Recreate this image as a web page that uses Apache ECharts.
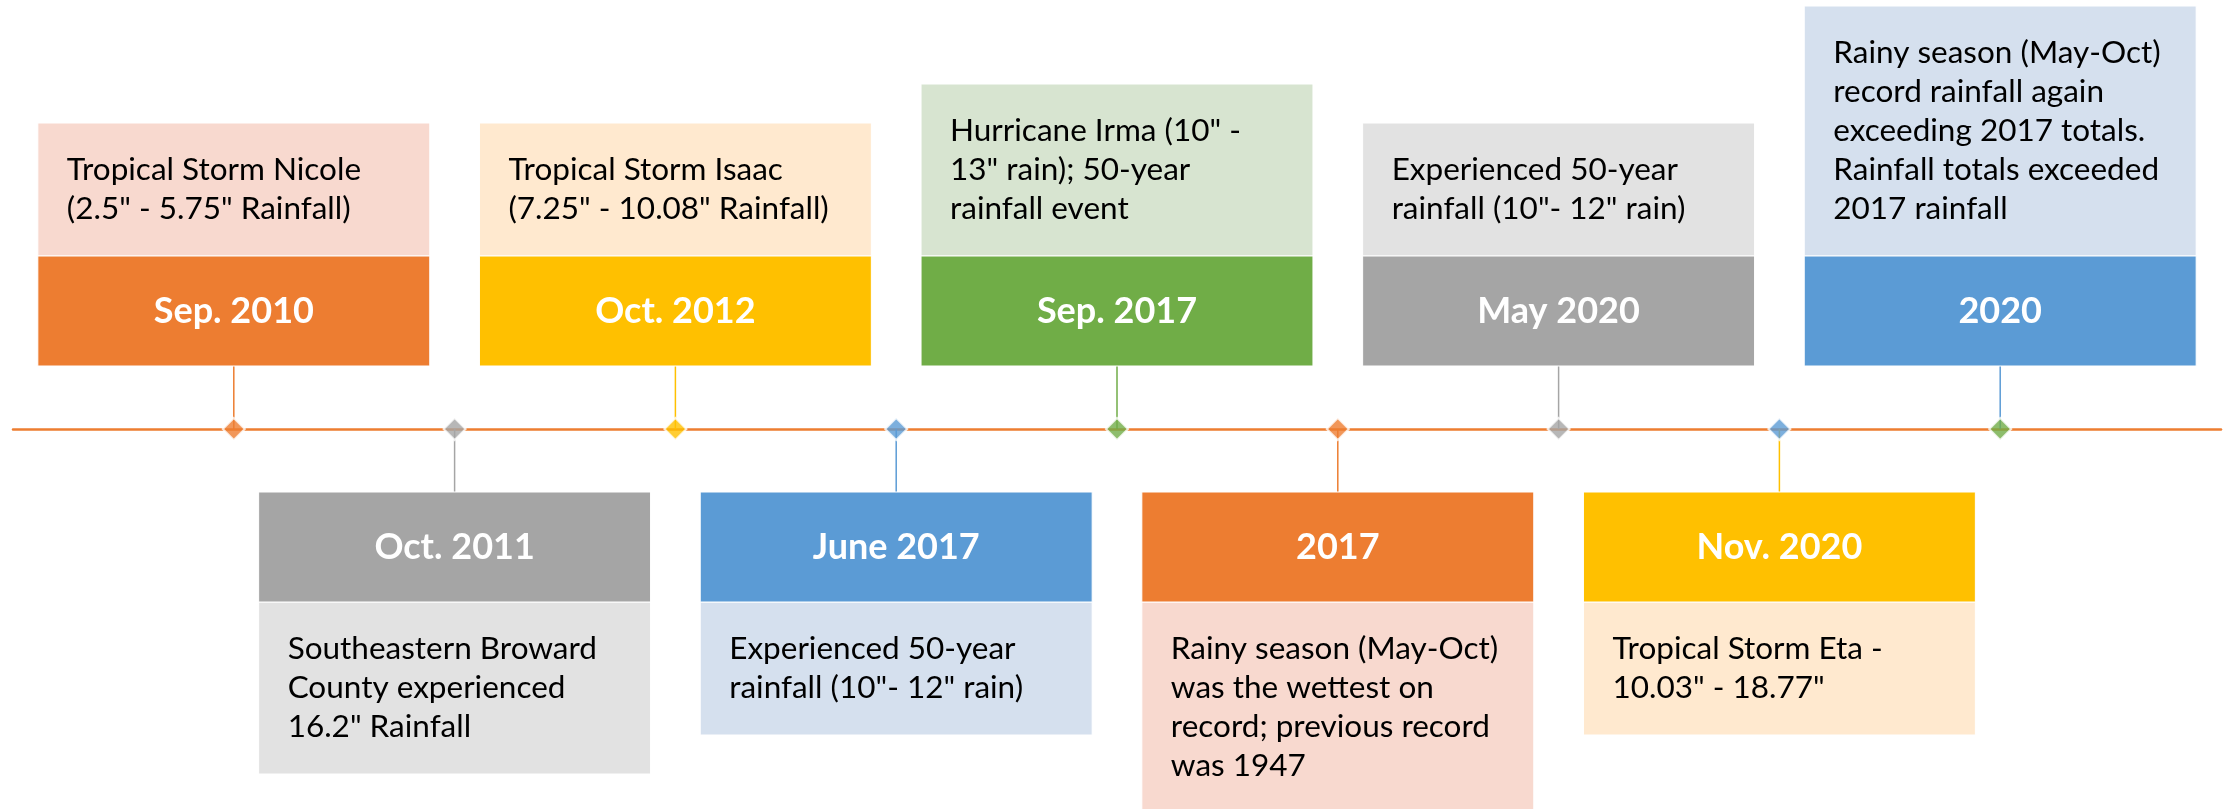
<!DOCTYPE html>
<html>
<head>
<meta charset="utf-8">
<title>Rainfall timeline</title>
<script src="https://cdn.jsdelivr.net/npm/echarts@6/dist/echarts.min.js"></script>
<style>
  html, body { margin: 0; padding: 0; background: #fff; }
  #main { width: 2233px; height: 809px; }
</style>
</head>
<body>
<div id="main"></div>
<script>
// timeline events, left to right
var dates = ['Sep. 2010', 'Oct. 2011', 'Oct. 2012', 'June 2017', 'Sep. 2017', '2017', 'May 2020', 'Nov. 2020', '2020'];
var notes = [
  'Tropical Storm Nicole\n(2.5" - 5.75" Rainfall)',
  'Southeastern Broward\nCounty experienced\n16.2" Rainfall',
  'Tropical Storm Isaac\n(7.25" - 10.08" Rainfall)',
  'Experienced 50-year\nrainfall (10"- 12" rain)',
  'Hurricane Irma (10" -\n13" rain); 50-year\nrainfall event',
  'Rainy season (May-Oct)\nwas the wettest on\nrecord; previous record\nwas 1947',
  'Experienced 50-year\nrainfall (10"- 12" rain)',
  'Tropical Storm Eta -\n10.03" - 18.77"',
  'Rainy season (May-Oct)\nrecord rainfall again\nexceeding 2017 totals.\nRainfall totals exceeded\n2017 rainfall'
];
var sides = ['up', 'down', 'up', 'down', 'up', 'down', 'up', 'down', 'up'];
var boxColors = ['#ED7D31', '#A5A5A5', '#FFC000', '#5B9BD5', '#70AD47', '#ED7D31', '#A5A5A5', '#FFC000', '#5B9BD5'];
var noteColors = ['#F8D9CF', '#E2E2E2', '#FFE9CF', '#D5E0EE', '#D7E4D0', '#F8D9CF', '#E2E2E2', '#FFE9CF', '#D5E0EE'];
var markerColors = ['#ED7D31', '#A5A5A5', '#FFC000', '#5B9BD5', '#70AD47', '#ED7D31', '#A5A5A5', '#5B9BD5', '#70AD47'];

var chart = echarts.init(document.getElementById('main'));

var gap = 63, headH = 110, lineH = 39;

function renderEvent(params, api) {
  var i = api.value(0);
  var c = api.coord([i, 0]);
  var w = api.size([1, 0])[0] * 1.775;
  var dir = sides[i] === 'up' ? -1 : 1;
  var lines = notes[i].split('\n').length;
  var noteH = 55 + lineH * lines;
  var x0 = c[0] - w / 2;
  var headY = dir < 0 ? c[1] - gap - headH : c[1] + gap;
  var noteY = dir < 0 ? headY - noteH : headY + headH;
  return {
    type: 'group',
    children: [
      { type: 'line', shape: { x1: c[0], y1: c[1], x2: c[0], y2: c[1] + dir * gap },
        style: { stroke: boxColors[i], lineWidth: 1.5 } },
      { type: 'rect', shape: { x: x0, y: noteY, width: w, height: noteH },
        style: { fill: noteColors[i], stroke: '#fff', lineWidth: 1 } },
      { type: 'rect', shape: { x: x0, y: headY, width: w, height: headH },
        style: { fill: boxColors[i], stroke: '#fff', lineWidth: 1 } },
      { type: 'text', x: c[0], y: headY + headH / 2,
        style: { text: dates[i], fill: '#fff', font: 'bold 36px Lato', align: 'center', verticalAlign: 'middle' } },
      { type: 'text', x: x0 + 29, y: noteY + noteH / 2,
        style: { text: notes[i], fill: '#000', font: '31.5px Lato', lineHeight: lineH, align: 'left', verticalAlign: 'middle' } }
    ]
  };
}

var option = {
  animation: false,
  grid: { left: 13, right: 12, top: 0, bottom: 0 },
  xAxis: {
    type: 'value', min: -1, max: 9,
    axisLine: { show: true, onZero: true, lineStyle: { color: '#ED7D31', width: 2.5 } },
    axisTick: { show: false }, axisLabel: { show: false }, splitLine: { show: false }
  },
  yAxis: { type: 'value', min: -380, max: 429, show: false },
  series: [
    {
      type: 'custom',
      renderItem: renderEvent,
      data: dates.map(function (d, i) { return [i]; }),
      z: 2
    },
    {
      type: 'scatter',
      symbol: 'diamond',
      symbolSize: 22,
      data: dates.map(function (d, i) {
        return { value: [i, 0], itemStyle: { color: markerColors[i] } };
      }),
      itemStyle: { borderColor: '#fff', borderWidth: 2 },
      z: 3
    }
  ]
};
chart.setOption(option);
</script>
</body>
</html>
